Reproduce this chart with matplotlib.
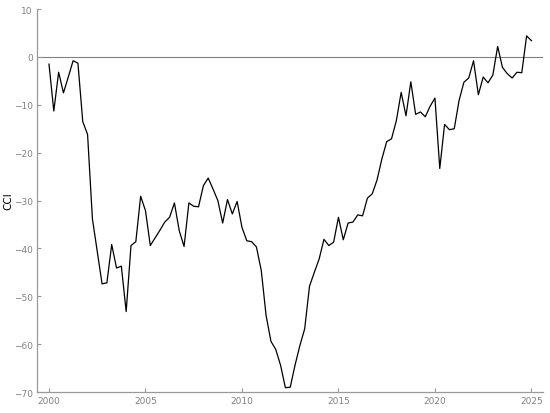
import numpy as np
import matplotlib
matplotlib.use("Agg")
import matplotlib.pyplot as plt

## consumer confidence indicator, quarterly 2000Q1 - 2025Q1
start_year = 2000
cci = [
    -1.5, -11.3, -3.2, -7.5,      # 2000
    -4.2, -0.8, -1.3, -13.5,      # 2001
    -16.2, -33.8, -40.6, -47.4,   # 2002
    -47.2, -39.2, -44.1, -43.7,   # 2003
    -53.2, -39.4, -38.6, -29.1,   # 2004
    -32.1, -39.4, -37.8, -36.2,   # 2005
    -34.5, -33.5, -30.5, -36.3,   # 2006
    -39.6, -30.5, -31.2, -31.3,   # 2007
    -26.9, -25.3, -27.6, -30.0,   # 2008
    -34.7, -29.8, -32.8, -30.2,   # 2009
    -35.6, -38.4, -38.6, -39.7,   # 2010
    -44.6, -54.0, -59.4, -61.1,   # 2011
    -64.4, -69.1, -69.0, -64.4,   # 2012
    -60.3, -56.8, -47.9, -45.0,   # 2013
    -42.2, -38.1, -39.4, -38.7,   # 2014
    -33.5, -38.2, -34.7, -34.5,   # 2015
    -33.0, -33.2, -29.5, -28.6,   # 2016
    -25.7, -21.3, -17.7, -17.1,   # 2017
    -13.3, -7.4, -12.3, -5.2,     # 2018
    -12.0, -11.5, -12.5, -10.3,   # 2019
    -8.6, -23.3, -14.1, -15.2,    # 2020
    -15.0, -9.1, -5.3, -4.4,      # 2021
    -0.8, -7.9, -4.2, -5.4,       # 2022
    -3.8, 2.2, -2.2, -3.5,        # 2023
    -4.4, -3.2, -3.3, 4.4,        # 2024
    3.4,                          # 2025
]
x_ticks = [2000, 2005, 2010, 2015, 2020, 2025]
y_ticks = [-70, -60, -50, -40, -30, -20, -10, 0, 10]

years = start_year + np.arange(len(cci)) / 4.0

fig = plt.figure(figsize=(5.5, 4.14), dpi=100)
ax = fig.add_axes([0.0673, 0.0507, 0.92, 0.925])

# zero line + series
ax.axhline(0, color="#808080", lw=0.8, zorder=1)
ax.plot(years, cci, color="black", lw=0.9, zorder=2)

ax.set_xlim(1999.38, 2025.6)
ax.set_ylim(-70, 10)
ax.set_xticks(x_ticks)
ax.set_yticks(y_ticks)
ax.set_ylabel("CCI", fontsize=7.5)
ax.yaxis.set_label_coords(-0.047, 0.5)

grey = "#999999"
for side in ["top", "right"]:
    ax.spines[side].set_visible(False)
for side in ["left", "bottom"]:
    ax.spines[side].set_color(grey)
    ax.spines[side].set_linewidth(0.9)
ax.tick_params(direction="in", length=3, width=0.8, color=grey,
               labelcolor="#808080", labelsize=6.5, pad=3)

plt.savefig("out.png", dpi=100)
